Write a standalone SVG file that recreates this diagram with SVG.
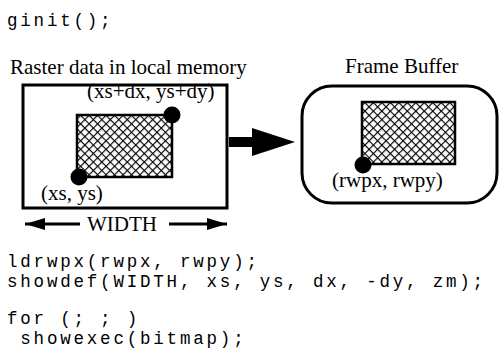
<svg xmlns="http://www.w3.org/2000/svg" width="499" height="359" viewBox="0 0 499 359">
  <style>
    .code { font-family: "Liberation Mono", "Courier New", monospace; font-size: 17.5px; letter-spacing: 2.8px; fill: #000; white-space: pre; }
    .lbl { font-family: "Liberation Serif", "Times New Roman", serif; font-size: 21px; fill: #000; }
    .frame { fill: #fff; stroke: #000; stroke-width: 3; }
    .hatch { fill: url(#xhatch); stroke: #000; stroke-width: 2.5; }
    .dot { fill: #000; }
    .dimline { stroke: #000; stroke-width: 3; fill: none; }
  </style>
  <defs>
    <pattern id="xhatch" width="6" height="6" patternUnits="userSpaceOnUse" patternTransform="rotate(45)">
      <rect width="6" height="6" fill="#fff"/>
      <line x1="0" y1="0" x2="0" y2="6" stroke="#000" stroke-width="2.3"/>
      <line x1="0" y1="0" x2="6" y2="0" stroke="#000" stroke-width="2.3"/>
    </pattern>
    <marker id="dimhead" viewBox="0 0 20 12" refX="20" refY="6" markerWidth="20" markerHeight="12" markerUnits="userSpaceOnUse" orient="auto">
      <path d="M0,0 L20,6 L0,12 Z" fill="#000"/>
    </marker>
  </defs>

  <rect width="499" height="359" fill="#fff"/>

  <g id="code-top">
    <text class="code" x="7" y="26">ginit();</text>
  </g>

  <g id="local-memory">
    <text class="lbl" x="10" y="74">Raster data in local memory</text>
    <rect class="frame" x="23" y="85" width="204" height="123"/>
    <rect class="hatch" x="77" y="115" width="95" height="62"/>
    <circle class="dot" cx="172" cy="115" r="8.5"/>
    <circle class="dot" cx="79" cy="177" r="8.5"/>
    <text class="lbl" x="87" y="98">(xs+dx, ys+dy)</text>
    <text class="lbl" x="41" y="200">(xs, ys)</text>
  </g>

  <g id="frame-buffer">
    <text class="lbl" x="345" y="73">Frame Buffer</text>
    <rect class="frame" x="302" y="86" width="195" height="117" rx="30" ry="30"/>
    <rect class="hatch" x="362" y="102" width="93" height="62"/>
    <circle class="dot" cx="363" cy="165" r="8.5"/>
    <text class="lbl" x="332" y="187">(rwpx, rwpy)</text>
  </g>

  <g id="width-label">
    <text class="lbl" x="87" y="231">WIDTH</text>
  </g>

  <g id="connectors">
    <path d="M229,137 L252,137 L252,128 L295,142 L252,156 L252,147 L229,147 Z" fill="#000"/>
    <line class="dimline" x1="80" y1="224" x2="25" y2="224" marker-end="url(#dimhead)"/>
    <line class="dimline" x1="169" y1="224" x2="227" y2="224" marker-end="url(#dimhead)"/>
  </g>

  <g id="code-bottom">
    <text class="code" x="7" y="267">ldrwpx(rwpx, rwpy);</text>
    <text class="code" x="7" y="287">showdef(WIDTH, xs, ys, dx, -dy, zm);</text>
    <text class="code" x="7" y="324">for (; ; )</text>
    <text class="code" x="7" y="344"> showexec(bitmap);</text>
  </g>
</svg>
